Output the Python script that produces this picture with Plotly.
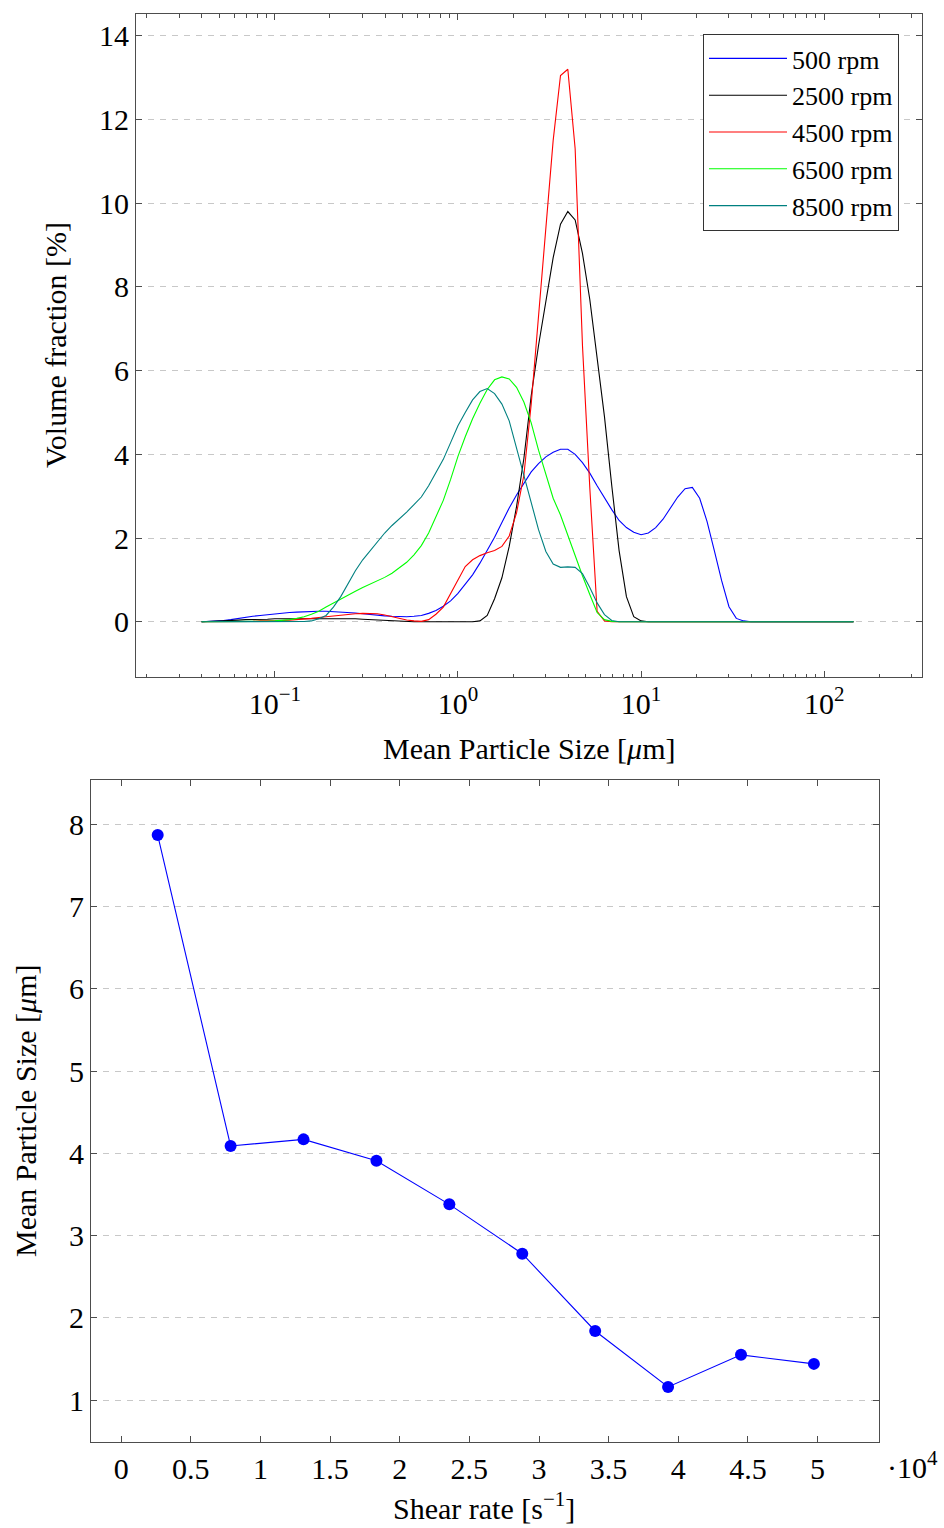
import plotly.graph_objects as go

# ---------------- data: particle size distributions ----------------
size_um = [0.03981, 0.04365, 0.04786, 0.05248, 0.05754, 0.06310, 0.06918, 0.07586, 0.08318, 0.09120,
           0.1000, 0.1096, 0.1202, 0.1318, 0.1445, 0.1585, 0.1738, 0.1905, 0.2089, 0.2291,
           0.2512, 0.2754, 0.3020, 0.3311, 0.3631, 0.3981, 0.4365, 0.4786, 0.5248, 0.5754,
           0.6310, 0.6918, 0.7586, 0.8318, 0.9120, 1.000, 1.096, 1.202, 1.318, 1.445,
           1.585, 1.738, 1.905, 2.089, 2.291, 2.512, 2.754, 3.020, 3.311, 3.631,
           3.981, 4.365, 4.786, 5.248, 5.754, 6.310, 6.918, 7.586, 8.318, 9.120,
           10.00, 10.96, 12.02, 13.18, 14.45, 15.85, 17.38, 19.05, 20.89, 22.91,
           25.12, 27.54, 30.20, 33.11, 36.31, 39.81, 43.65, 47.86, 52.48, 57.54,
           63.10, 69.18, 75.86, 83.18, 91.20, 100.0, 109.6, 120.2, 131.8, 144.5]

vol_500 = [0, 0.005, 0.01, 0.03, 0.05, 0.08, 0.10, 0.13, 0.15, 0.17,
           0.19, 0.21, 0.22, 0.23, 0.24, 0.25, 0.25, 0.25, 0.24, 0.24,
           0.22, 0.21, 0.19, 0.17, 0.15, 0.14, 0.13, 0.12, 0.12, 0.13,
           0.15, 0.20, 0.27, 0.37, 0.50, 0.68, 0.90, 1.12, 1.40, 1.70,
           2.02, 2.37, 2.72, 3.03, 3.32, 3.58, 3.78, 3.94, 4.05, 4.12,
           4.12, 4.00, 3.80, 3.55, 3.25, 2.95, 2.68, 2.42, 2.25, 2.14,
           2.08, 2.12, 2.25, 2.45, 2.70, 2.98, 3.18, 3.21, 2.95, 2.40,
           1.70, 0.98, 0.36, 0.08, 0.02, 0, 0, 0, 0, 0,
           0, 0, 0, 0, 0, 0, 0, 0, 0, 0]

vol_2500 = [0, 0.005, 0.01, 0.02, 0.03, 0.04, 0.05, 0.05, 0.06, 0.06,
            0.07, 0.07, 0.08, 0.08, 0.08, 0.08, 0.08, 0.08, 0.08, 0.08,
            0.07, 0.07, 0.06, 0.05, 0.04, 0.03, 0.02, 0.01, 0.005, 0,
            0, 0, 0, 0, 0, 0, 0, 0, 0.02, 0.15,
            0.55, 1.05, 1.80, 2.75, 3.90, 5.40, 6.60, 7.65, 8.70, 9.50,
            9.80, 9.60, 8.80, 7.70, 6.30, 4.90, 3.25, 1.70, 0.60, 0.12,
            0.02, 0, 0, 0, 0, 0, 0, 0, 0, 0,
            0, 0, 0, 0, 0, 0, 0, 0, 0, 0,
            0, 0, 0, 0, 0, 0, 0, 0, 0, 0]

vol_4500 = [0, 0, 0, 0, 0, 0.01, 0.01, 0.01, 0.02, 0.02,
            0.02, 0.03, 0.04, 0.05, 0.06, 0.08, 0.10, 0.12, 0.14, 0.16,
            0.18, 0.19, 0.20, 0.20, 0.19, 0.16, 0.12, 0.08, 0.04, 0.02,
            0.01, 0.05, 0.18, 0.35, 0.68, 1.02, 1.32, 1.48, 1.58, 1.65,
            1.70, 1.80, 2.05, 2.60, 3.50, 5.20, 7.30, 9.40, 11.50, 13.05,
            13.20, 11.30, 6.60, 3.20, 0.25, 0.02, 0, 0, 0, 0,
            0, 0, 0, 0, 0, 0, 0, 0, 0, 0,
            0, 0, 0, 0, 0, 0, 0, 0, 0, 0,
            0, 0, 0, 0, 0, 0, 0, 0, 0, 0]

vol_6500 = [0, 0, 0, 0, 0, 0, 0, 0.005, 0.01, 0.01,
            0.02, 0.03, 0.05, 0.08, 0.12, 0.18, 0.25, 0.35, 0.45, 0.55,
            0.65, 0.73, 0.82, 0.90, 0.98, 1.06, 1.16, 1.28, 1.42, 1.60,
            1.82, 2.12, 2.50, 2.90, 3.40, 3.95, 4.42, 4.85, 5.22, 5.55,
            5.78, 5.85, 5.80, 5.60, 5.25, 4.75, 4.10, 3.50, 2.95, 2.55,
            2.05, 1.55, 1.10, 0.65, 0.22, 0.05, 0.01, 0, 0, 0,
            0, 0, 0, 0, 0, 0, 0, 0, 0, 0,
            0, 0, 0, 0, 0, 0, 0, 0, 0, 0,
            0, 0, 0, 0, 0, 0, 0, 0, 0, 0]

vol_8500 = [0, 0, 0, 0, 0, 0, 0, 0, 0, 0,
            0, 0, 0, 0, 0.005, 0.02, 0.07, 0.15, 0.35, 0.60,
            0.92, 1.22, 1.48, 1.70, 1.92, 2.12, 2.30, 2.45, 2.62, 2.80,
            2.98, 3.25, 3.55, 3.88, 4.28, 4.68, 5.00, 5.30, 5.50, 5.57,
            5.45, 5.20, 4.80, 4.15, 3.45, 2.80, 2.20, 1.68, 1.38, 1.30,
            1.31, 1.30, 1.15, 0.82, 0.45, 0.17, 0.03, 0, 0, 0,
            0, 0, 0, 0, 0, 0, 0, 0, 0, 0,
            0, 0, 0, 0, 0, 0, 0, 0, 0, 0,
            0, 0, 0, 0, 0, 0, 0, 0, 0, 0]

series_names = ["500 rpm", "2500 rpm", "4500 rpm", "6500 rpm", "8500 rpm"]
series_colors = ["rgb(0,0,255)", "rgb(0,0,0)", "rgb(255,0,0)", "rgb(0,255,0)", "rgb(0,128,128)"]
series_values = [vol_500, vol_2500, vol_4500, vol_6500, vol_8500]

# ---------------- data: mean size vs shear rate ----------------
shear_rate = [2618, 7854, 13090, 18326, 23562, 28798, 34034, 39270, 44506, 49742]
mean_size = [7.87, 4.09, 4.17, 3.91, 3.38, 2.78, 1.84, 1.16, 1.55, 1.44]

top_y_ticks = [0, 2, 4, 6, 8, 10, 12, 14]
top_x_ticks = [0.1, 1, 10, 100]
top_x_ticktext = ["10<sup>−1</sup>", "10<sup>0</sup>", "10<sup>1</sup>", "10<sup>2</sup>"]
bot_x_ticks = [0, 5000, 10000, 15000, 20000, 25000, 30000, 35000, 40000, 45000, 50000]
bot_x_ticktext = ["0", "0.5", "1", "1.5", "2", "2.5", "3", "3.5", "4", "4.5", "5"]
bot_y_ticks = [1, 2, 3, 4, 5, 6, 7, 8]

FONT = "Liberation Serif"
FS = 30
AX = "#4d4d4d"
GRID = "#c8c8c8"

fig = go.Figure()
for name, col, vals in zip(series_names, series_colors, series_values):
    fig.add_trace(go.Scatter(x=size_um, y=vals, mode="lines", name=name,
                             line=dict(color=col, width=1.1),
                             xaxis="x", yaxis="y"))

fig.add_trace(go.Scatter(x=shear_rate, y=mean_size, mode="lines+markers",
                         line=dict(color="rgb(0,0,255)", width=1.1),
                         marker=dict(color="rgb(0,0,255)", size=12),
                         showlegend=False, xaxis="x2", yaxis="y2"))

W, H = 944, 1528
def px(v):
    return v / W
def py(v):
    return 1 - v / H

minor_vals = []
for dec in [0.01, 0.1, 1, 10, 100]:
    for m in range(2, 10):
        minor_vals.append(m * dec)

common_axis = dict(showline=True, linecolor=AX, linewidth=1, mirror="allticks",
                   ticks="inside", tickcolor=AX, ticklen=6, tickwidth=1,
                   tickfont=dict(family=FONT, size=FS, color="black"), zeroline=False)

fig.update_layout(
    width=W, height=H, margin=dict(l=0, r=0, t=0, b=0),
    paper_bgcolor="white", plot_bgcolor="white",
    font=dict(family=FONT, size=FS, color="black"),
    xaxis=dict(domain=[px(136), px(922)], anchor="y", type="log",
               range=[-1.758, 2.534], tickvals=top_x_ticks, ticktext=top_x_ticktext,
               showgrid=False,
               minor=dict(tickvals=minor_vals, ticks="inside", ticklen=3.5,
                          tickcolor=AX, showgrid=False),
               **common_axis),
    yaxis=dict(domain=[py(677), py(14)], anchor="x", range=[-1.32, 14.52],
               tickvals=top_y_ticks, showgrid=True, gridcolor=GRID, gridwidth=1,
               griddash="6px,6px", **common_axis),
    xaxis2=dict(domain=[px(91), px(879)], anchor="y2", range=[-2171, 54416],
                tickvals=bot_x_ticks, ticktext=bot_x_ticktext, showgrid=False,
                **common_axis),
    yaxis2=dict(domain=[py(1442), py(780)], anchor="x2", range=[0.49, 8.54],
                tickvals=bot_y_ticks, showgrid=True, gridcolor=GRID, gridwidth=1,
                griddash="6px,6px", **common_axis),
    legend=dict(x=px(899), y=py(34), xanchor="right", yanchor="top",
                bgcolor="white", bordercolor="#333333", borderwidth=1,
                font=dict(family=FONT, size=26, color="black"),
                itemwidth=78, tracegroupgap=0),
    annotations=[
        dict(text="Mean Particle Size [<i>μ</i>m]", x=px(529), y=py(748), xref="paper", yref="paper",
             showarrow=False, xanchor="center", yanchor="middle",
             font=dict(family=FONT, size=FS)),
        dict(text="Volume fraction [%]", x=px(55), y=py(345), xref="paper", yref="paper",
             showarrow=False, xanchor="center", yanchor="middle", textangle=-90,
             font=dict(family=FONT, size=FS)),
        dict(text="Mean Particle Size [<i>μ</i>m]", x=px(25), y=py(1111), xref="paper", yref="paper",
             showarrow=False, xanchor="center", yanchor="middle", textangle=-90,
             font=dict(family=FONT, size=FS)),
        dict(text="Shear rate [s<sup>−1</sup>]", x=px(484), y=py(1506), xref="paper", yref="paper",
             showarrow=False, xanchor="center", yanchor="middle",
             font=dict(family=FONT, size=FS)),
        dict(text="·10<sup>4</sup>", x=px(912), y=py(1465), xref="paper", yref="paper",
             showarrow=False, xanchor="center", yanchor="middle",
             font=dict(family=FONT, size=FS)),
    ],
)

fig.write_html("out.html", config={"displayModeBar": False},
               post_script="document.body.style.margin='0';document.body.style.padding='0';"
                           "document.body.style.overflow='hidden';window.dispatchEvent(new Event('resize'));")
